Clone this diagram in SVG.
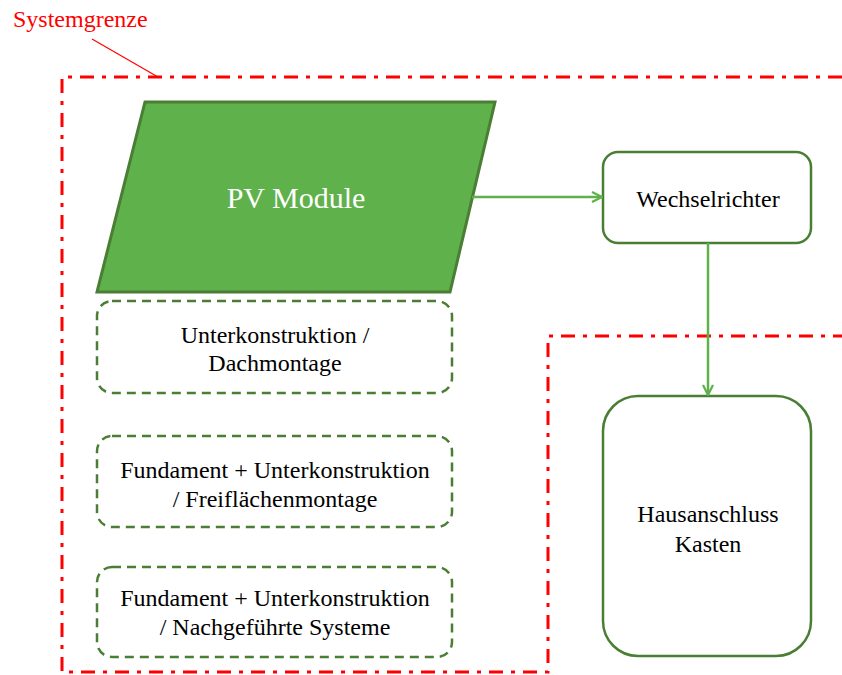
<svg xmlns="http://www.w3.org/2000/svg" width="842" height="675" viewBox="0 0 842 675" font-family="Liberation Serif, Times New Roman, serif">
<defs>
<style>
.t{font-family:"Liberation Serif","Times New Roman",serif;font-size:24px;fill:#000;text-anchor:middle}
.bound{fill:none;stroke:#ff0000;stroke-width:3;stroke-dasharray:14 8 4 8}
.dash{fill:#fff;stroke:#4a7e34;stroke-width:2.5;stroke-dasharray:9 6}
.solid{fill:#fff;stroke:#4a7e34;stroke-width:2.5}
.conn{fill:none;stroke:#5eb14b;stroke-width:2.5}
</style>
<marker id="ah" viewBox="0 0 12 12" refX="11" refY="6" markerWidth="12" markerHeight="12" markerUnits="userSpaceOnUse" orient="auto">
<path d="M1,1 L11,6 L1,11" fill="none" stroke="#5eb14b" stroke-width="2.2"/>
</marker>
</defs>
<g id="systemgrenze">
<text x="13" y="27" font-size="24" fill="#ff0000">Systemgrenze</text>
<line x1="92" y1="39" x2="158" y2="77" stroke="#ff0000" stroke-width="1.2"/>
<path class="bound" d="M842,77 L62,77 L62,672 L548,672 L548,336 L842,336"/>
</g>
<g id="pv">
<polygon points="145,102 495,102 450,292 97,292" fill="#5fb14b" stroke="#4a7e34" stroke-width="3"/>
<text x="296" y="208" font-size="30" fill="#ffffff" text-anchor="middle">PV Module</text>
</g>
<g id="wechselrichter">
<rect class="solid" x="603" y="152" width="208" height="91" rx="15"/>
<text class="t" x="708" y="207">Wechselrichter</text>
</g>
<g id="hausanschluss">
<rect class="solid" x="603" y="396" width="208" height="260" rx="35"/>
<text class="t" x="708" y="522">Hausanschluss</text>
<text class="t" x="708" y="552">Kasten</text>
</g>
<g id="dach">
<rect class="dash" x="97" y="301" width="355" height="92" rx="15"/>
<text class="t" x="275" y="343">Unterkonstruktion /</text>
<text class="t" x="275" y="371">Dachmontage</text>
</g>
<g id="frei">
<rect class="dash" x="97" y="436" width="355" height="91" rx="15"/>
<text class="t" x="275" y="478">Fundament + Unterkonstruktion</text>
<text class="t" x="275" y="507">/ Freiflächenmontage</text>
</g>
<g id="nachgefuehrt">
<rect class="dash" x="97" y="567" width="355" height="90" rx="15"/>
<text class="t" x="275" y="606">Fundament + Unterkonstruktion</text>
<text class="t" x="275" y="635">/ Nachgeführte Systeme</text>
</g>
<g id="connectors">
<line class="conn" x1="472" y1="197" x2="602" y2="197" marker-end="url(#ah)"/>
<line class="conn" x1="708" y1="243" x2="708" y2="395" marker-end="url(#ah)"/>
</g>
</svg>
